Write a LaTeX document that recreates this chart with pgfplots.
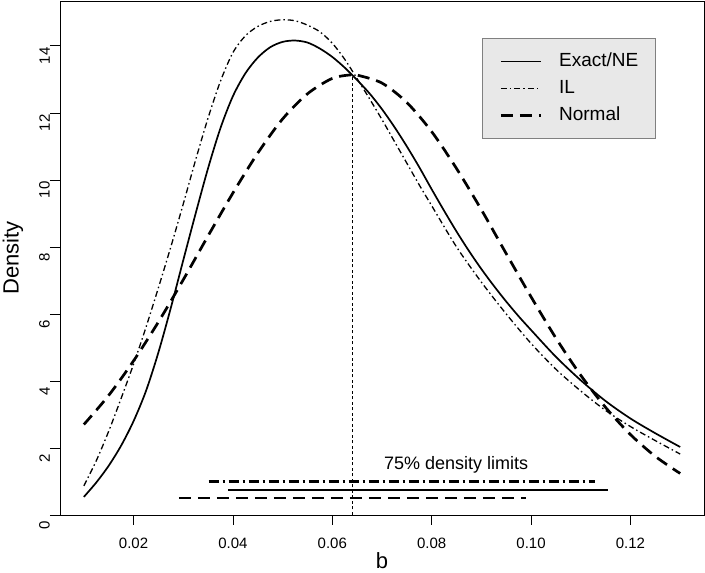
\documentclass[border=0pt]{standalone}
\usepackage{fontspec}
\setmainfont{Liberation Sans}
\usepackage{pgfplots}
\pgfplotsset{compat=1.18}
\definecolor{legfill}{HTML}{E8E8E8}
\definecolor{legdraw}{HTML}{808080}
\begin{document}
\begin{tikzpicture}[x=1pt,y=1pt]
\useasboundingbox (-60,-58) rectangle (645,515);
\begin{axis}[
  at={(0,0)}, anchor=south west,
  width=644pt, height=514pt, scale only axis,
  xmin=0.0052, xmax=0.1348, ymin=0, ymax=15.34,
  xtick={0.02,0.04,0.06,0.08,0.10,0.12},
  xticklabels={0.02,0.04,0.06,0.08,0.10,0.12},
  ytick={0,2,4,6,8,10,12,14},
  yticklabels={0,2,4,6,8,10,12,14},
  xtick pos=left, ytick pos=left,
  tick align=outside, major tick length=10pt,
  tick style={black, line width=0.8pt},
  axis line style={black, line width=0.8pt},
  /pgf/number format/assume math mode=true,
  tick label style={font=\fontsize{15}{15}\selectfont, inner sep=0pt},
  xticklabel style={anchor=north, yshift=-13pt},
  yticklabel style={rotate=90, anchor=south, xshift=-10pt},
  every axis x label/.style={at={(axis description cs:0.5,0)}, yshift=-46pt, anchor=center, font=\fontsize{22}{22}\selectfont},
  every axis y label/.style={at={(axis description cs:0,0.5)}, xshift=-47pt, rotate=90, anchor=center, font=\fontsize{22}{22}\selectfont},
  xlabel={b}, ylabel={Density},
  legend cell align=left,
  legend image code/.code={\draw[#1] (0pt,0pt) -- (40pt,0pt);},
  legend style={at={(rel axis cs:0.6553,0.928)}, anchor=north west,
    fill=legfill, draw=legdraw, line width=0.8pt,
    font=\fontsize{19}{19}\selectfont,
    inner xsep=17pt, inner ysep=14pt, row sep=9pt,
    nodes={inner sep=0pt, text height=14pt, text depth=4pt},
    /tikz/every odd column/.append style={column sep=17pt}},
]
% Exact/NE
\addplot[black, line width=1.7pt, smooth] coordinates {
(0.0100,0.54) (0.0125,0.97) (0.0150,1.47) (0.0175,2.07) (0.0200,2.80)
(0.0225,3.70) (0.0250,4.85) (0.0275,6.18) (0.0300,7.60) (0.0325,9.00)
(0.0350,10.35) (0.0375,11.55) (0.0400,12.50) (0.0425,13.18) (0.0450,13.65)
(0.0475,13.96) (0.0500,14.12) (0.0525,14.16) (0.0550,14.10) (0.0575,13.92)
(0.0600,13.67) (0.0625,13.35) (0.0650,12.98) (0.0675,12.58) (0.0700,12.11)
(0.0725,11.58) (0.0750,11.00) (0.0775,10.38) (0.0800,9.72) (0.0825,9.08)
(0.0850,8.46) (0.0875,7.88) (0.0900,7.34) (0.0925,6.84) (0.0950,6.37)
(0.0975,5.93) (0.1000,5.52) (0.1050,4.72) (0.1100,4.02) (0.1150,3.40)
(0.1200,2.88) (0.1250,2.44) (0.1300,2.03)};
\addlegendentry{Exact/NE}
% IL
\addplot[black, line width=1.3pt, smooth, dash pattern=on 6pt off 3pt on 1.5pt off 3pt] coordinates {
(0.0100,0.87) (0.0125,1.62) (0.0150,2.50) (0.0175,3.48) (0.0200,4.50)
(0.0225,5.60) (0.0250,6.78) (0.0275,8.00) (0.0300,9.28) (0.0325,10.60)
(0.0350,11.85) (0.0375,12.95) (0.0400,13.80) (0.0425,14.30) (0.0450,14.58)
(0.0475,14.73) (0.0500,14.78) (0.0525,14.75) (0.0550,14.62) (0.0575,14.42)
(0.0600,14.08) (0.0625,13.60) (0.0650,13.02) (0.0675,12.42) (0.0700,11.80)
(0.0725,11.15) (0.0750,10.50) (0.0775,9.85) (0.0800,9.23) (0.0850,8.00)
(0.0900,6.95) (0.0950,6.00) (0.1000,5.12) (0.1050,4.35) (0.1100,3.70)
(0.1150,3.12) (0.1200,2.64) (0.1250,2.22) (0.1300,1.82)};
\addlegendentry{IL}
% Normal
\addplot[black, line width=2.7pt, smooth, dash pattern=on 12pt off 7pt] coordinates {
(0.010,2.70) (0.015,3.57) (0.020,4.60) (0.025,5.76) (0.030,7.02)
(0.035,8.33) (0.040,9.61) (0.045,10.80) (0.050,11.82) (0.055,12.57)
(0.060,13.03) (0.064,13.14) (0.065,13.13) (0.070,12.89) (0.075,12.31)
(0.080,11.44) (0.085,10.34) (0.090,9.11) (0.095,7.80) (0.100,6.51)
(0.105,5.28) (0.110,4.17) (0.115,3.21) (0.120,2.40) (0.125,1.75)
(0.130,1.24)};
\addlegendentry{Normal}
% vertical line at mode of normal
\addplot[black, line width=0.7pt, dash pattern=on 3pt off 2.5pt, forget plot] coordinates {(0.064,0) (0.064,13.14)};
% 75% density limits
\addplot[black, line width=2.5pt, dash pattern=on 10pt off 4pt on 2pt off 4pt, forget plot] coordinates {(0.0351,1.0) (0.1128,1.0)};
\addplot[black, line width=2.5pt, forget plot] coordinates {(0.0391,0.75) (0.1154,0.75)};
\addplot[black, line width=2.5pt, dash pattern=on 12pt off 7pt, forget plot] coordinates {(0.0291,0.5) (0.0989,0.5)};
\node[font=\fontsize{18}{18}\selectfont, anchor=center] at (axis cs:0.0849,1.49) {75\% density limits};
\end{axis}
\end{tikzpicture}
\end{document}
